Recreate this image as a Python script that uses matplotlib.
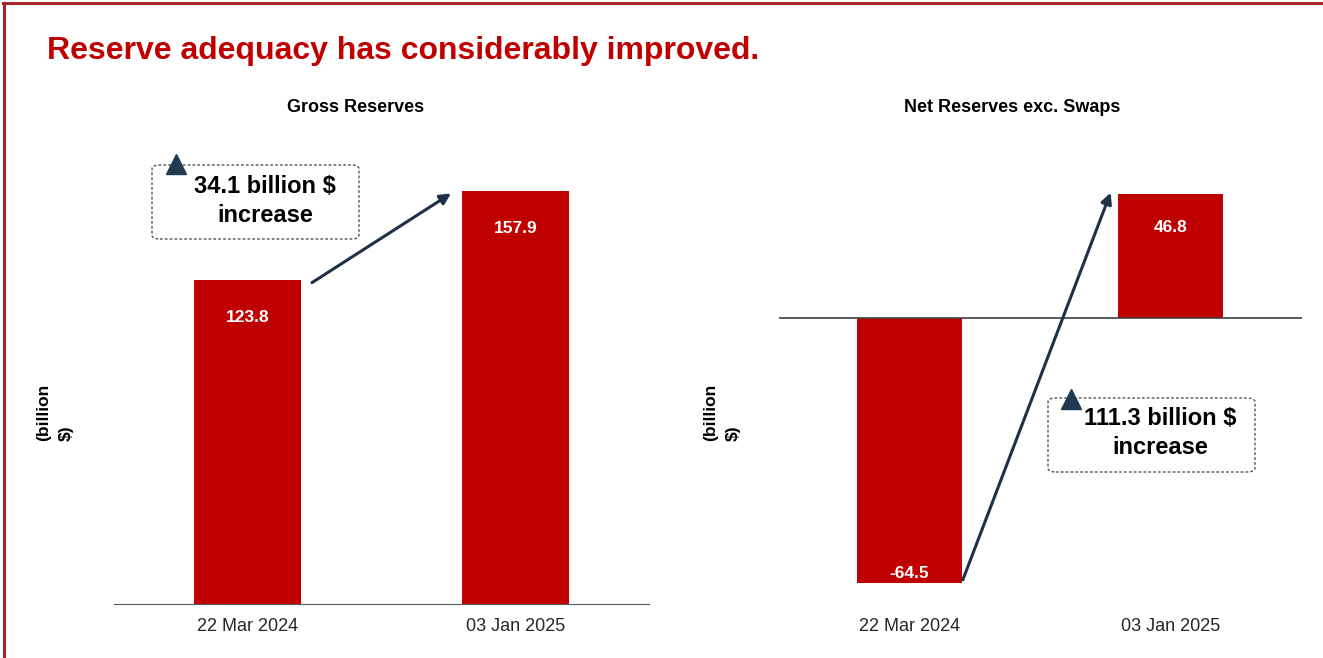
import matplotlib
matplotlib.use("Agg")
import matplotlib.pyplot as plt
import numpy as np
from matplotlib.lines import Line2D
from matplotlib.patches import FancyBboxPatch

plt.rcParams["font.family"] = ["Liberation Sans", "DejaVu Sans"]

dates = ["22 Mar 2024", "03 Jan 2025"]
gross = [123.8, 157.9]
net = [-64.5, 46.8]
gross_change = "34.1 billion $\nincrease"
net_change = "111.3 billion $\nincrease"

RED = "#c00000"
NAVY = "#1f3049"
W, H = 1323, 658
BAR_W = 0.4

fig = plt.figure(figsize=(13.23, 6.58), dpi=100)

# frame lines (top and left, like the slide border)
fig.add_artist(Line2D([3 / W, 1], [1 - 3 / H, 1 - 3 / H], color="#a8252c", lw=2.2))
fig.add_artist(Line2D([4 / W, 4 / W], [0, 1 - 3 / H], color="#a8252c", lw=2.2))

fig.text(47 / W, 1 - 51 / H, "Reserve adequacy has considerably improved.",
         color=RED, fontsize=23, fontweight="bold", va="center", ha="left")

x = np.arange(len(dates))

# ---- Gross reserves ----
ax1 = fig.add_axes([114 / W, 1 - 604 / H, 535 / W, 454 / H])
ax1.bar(x, gross, width=BAR_W, color=RED)
ax1.set_xlim(-0.5, 1.5)
ax1.set_ylim(0, 173.5)
for s in ["top", "right", "left"]:
    ax1.spines[s].set_visible(False)
ax1.spines["bottom"].set_color("#595959")
ax1.set_yticks([])
ax1.set_xticks(x, dates)
ax1.tick_params(axis="x", length=0, pad=10, labelsize=13, labelcolor="#262626")
for i, v in enumerate(gross):
    ax1.annotate(f"{v}", (i, v), xytext=(0, -27), textcoords="offset points",
                 ha="center", va="center", color="white", fontsize=12.5, fontweight="bold")
ax1.annotate("", xy=(1 - BAR_W / 2 - 0.04, gross[1] - 1), xytext=(BAR_W / 2 + 0.04, gross[0] - 1),
             arrowprops=dict(arrowstyle="-|>", color=NAVY, lw=2.2, mutation_scale=16,
                             shrinkA=0, shrinkB=0))

# ---- Net reserves exc. swaps (negative side drawn stretched, as in the original) ----
k = 1.55


def fwd(y):
    y = np.asarray(y, dtype=float)
    return np.where(y < 0, y * k, y)


def inv(y):
    y = np.asarray(y, dtype=float)
    return np.where(y < 0, y / k, y)


ax2 = fig.add_axes([778.5 / W, 1 - 604 / H, 523 / W, 454 / H])
ax2.set_yscale("function", functions=(fwd, inv))
ax2.bar(x, net, width=BAR_W, color=RED)
ax2.set_xlim(-0.5, 1.5)
ax2.set_ylim(-69.6, 63.4)
for s in ax2.spines.values():
    s.set_visible(False)
ax2.axhline(0, color="#404040", lw=1.2)
ax2.set_yticks([])
ax2.minorticks_off()
ax2.set_xticks(x, dates)
ax2.tick_params(axis="x", length=0, pad=10, labelsize=13, labelcolor="#262626")
ax2.tick_params(axis="y", which="both", length=0)
for i, v in enumerate(net):
    off = -24 if v > 0 else 7
    ax2.annotate(f"{v}", (i, v), xytext=(0, off), textcoords="offset points",
                 ha="center", va="center", color="white", fontsize=12.5, fontweight="bold")
ax2.annotate("", xy=(1 - BAR_W / 2 - 0.03, net[1] + 0.5), xytext=(BAR_W / 2 + 0.005, net[0] + 0.8),
             arrowprops=dict(arrowstyle="-|>", color=NAVY, lw=2.2, mutation_scale=16,
                             shrinkA=0, shrinkB=0))

# subplot titles and axis labels
fig.text(356 / W, 1 - 107 / H, "Gross Reserves", fontsize=13, fontweight="bold",
         ha="center", va="center")
fig.text(1012 / W, 1 - 107 / H, "Net Reserves exc. Swaps", fontsize=13, fontweight="bold",
         ha="center", va="center")
fig.text(55 / W, 1 - 412 / H, "(billion\n$)", rotation=90, fontsize=12.5, fontweight="bold",
         ha="center", va="center", multialignment="left", linespacing=1.6)
fig.text(722 / W, 1 - 412 / H, "(billion\n$)", rotation=90, fontsize=12.5, fontweight="bold",
         ha="center", va="center", multialignment="left", linespacing=1.6)

# change callouts
for bx, by, tx, ty, mx, my, label in [
    (152, 239, 265, 201, 176, 164, gross_change),
    (1048, 472, 1160, 433, 1071, 399, net_change),
]:
    fig.add_artist(FancyBboxPatch((bx / W, 1 - by / H), 207 / W, 74 / H,
                                  boxstyle="round,pad=0,rounding_size=0.006",
                                  transform=fig.transFigure, facecolor="white",
                                  edgecolor="#555555", lw=1, ls=(0, (2, 1.5))))
    fig.text(tx / W, 1 - ty / H, label, fontsize=17, fontweight="bold", ha="center",
             va="center", linespacing=1.3)
    fig.add_artist(Line2D([mx / W], [1 - my / H], marker="^", markersize=14,
                          color="#203a52", linestyle="none"))

fig.savefig("out.png", dpi=100)
